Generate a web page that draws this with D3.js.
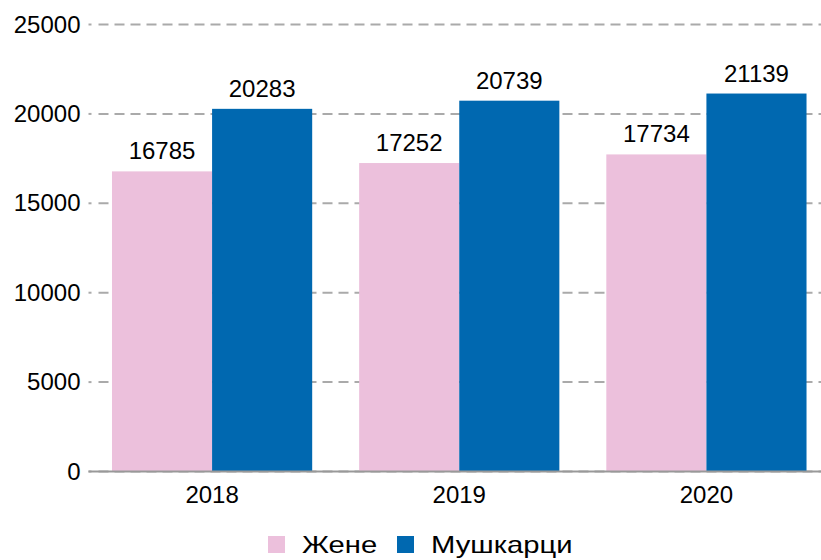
<!DOCTYPE html>
<html>
<head>
<meta charset="utf-8">
<script src="https://cdn.jsdelivr.net/npm/d3@7"></script>
<style>
  body { margin: 0; background: #fff; }
  text { font-family: "Liberation Sans", Arial, sans-serif; fill: #000; }
</style>
</head>
<body>
<div id="chart"></div>
<script>
// podaci
const years = ["2018", "2019", "2020"];
const seriesNames = ["Жене", "Мушкарци"];
const women = [16785, 17252, 17734];
const men = [20283, 20739, 21139];
const yTicks = [0, 5000, 10000, 15000, 20000, 25000];
const colors = ["#ecc0dc", "#0068b0"];

function renderChart() {
    const width = 821;
    const height = 560;
    const margin = { top: 24.5, right: -9, bottom: 88.5, left: 88.5 };
    const fontSize = "24px";

    const svg = d3.select("#chart").append("svg")
        .attr("width", width)
        .attr("height", height);

    const x0 = d3.scaleBand()
        .domain(years)
        .range([margin.left, width - margin.right])
        .paddingInner(0.19)
        .paddingOuter(0.095);

    const x1 = d3.scaleBand()
        .domain(seriesNames)
        .range([0, x0.bandwidth()]);

    const y = d3.scaleLinear()
        .domain([0, 25000])
        .range([height - margin.bottom, margin.top]);

    const color = d3.scaleOrdinal().domain(seriesNames).range(colors);

    // mreža
    svg.append("g")
        .selectAll("line")
        .data(yTicks)
        .enter()
        .append("line")
        .attr("x1", margin.left + 10)
        .attr("x2", width)
        .attr("y1", d => y(d))
        .attr("y2", d => y(d))
        .attr("stroke", "#aaa")
        .attr("stroke-width", 2)
        .attr("stroke-dasharray", "10,6");

    svg.append("g")
        .selectAll("line")
        .data(yTicks)
        .enter()
        .append("line")
        .attr("x1", margin.left)
        .attr("x2", margin.left + 3)
        .attr("y1", d => y(d))
        .attr("y2", d => y(d))
        .attr("stroke", "#aaa")
        .attr("stroke-width", 2);

    const rows = years.map((yr, i) => ({ year: yr, values: [women[i], men[i]] }));

    const groups = svg.append("g")
        .selectAll("g")
        .data(rows)
        .enter()
        .append("g")
        .attr("transform", d => `translate(${x0(d.year)},0)`);

    groups.selectAll("rect")
        .data(d => d.values.map((v, j) => ({ key: seriesNames[j], value: v })))
        .enter()
        .append("rect")
        .attr("x", d => x1(d.key))
        .attr("y", d => y(d.value))
        .attr("width", x1.bandwidth())
        .attr("height", d => y(0) - y(d.value))
        .attr("fill", d => color(d.key));

    groups.selectAll("text")
        .data(d => d.values.map((v, j) => ({ key: seriesNames[j], value: v })))
        .enter()
        .append("text")
        .attr("x", d => x1(d.key) + x1.bandwidth() / 2)
        .attr("y", d => y(d.value) - 12)
        .attr("text-anchor", "middle")
        .style("font-size", fontSize)
        .text(d => d.value);

    // x osa
    svg.append("line")
        .attr("x1", margin.left)
        .attr("x2", width)
        .attr("y1", y(0))
        .attr("y2", y(0))
        .attr("stroke", "#999")
        .attr("stroke-width", 2);

    const xAxis = svg.append("g")
        .attr("transform", `translate(0,${y(0)})`)
        .call(d3.axisBottom(x0).tickSize(0).tickPadding(14));
    xAxis.select(".domain").remove();
    xAxis.selectAll("text")
        .style("font-size", fontSize)
        .attr("font-family", null)
        .attr("dy", "0.71em");

    const yAxis = svg.append("g")
        .attr("transform", `translate(${margin.left - 8},0)`)
        .call(d3.axisLeft(y).tickValues(yTicks).tickFormat(d3.format("d")).tickSize(0).tickPadding(0));
    yAxis.select(".domain").remove();
    yAxis.selectAll("text")
        .style("font-size", fontSize)
        .attr("font-family", null);

    // legenda
    const legend = svg.append("g")
        .attr("transform", "translate(268,536)");
    const offsets = [0, 129];
    seriesNames.forEach((name, i) => {
        const g = legend.append("g").attr("transform", `translate(${offsets[i]},0)`);
        g.append("rect")
            .attr("width", 17)
            .attr("height", 17)
            .attr("fill", colors[i]);
        g.append("text")
            .attr("transform", "translate(34,17) scale(1.27,1)")
            .style("font-size", "23px")
            .text(name);
    });
}

renderChart();
</script>
</body>
</html>
